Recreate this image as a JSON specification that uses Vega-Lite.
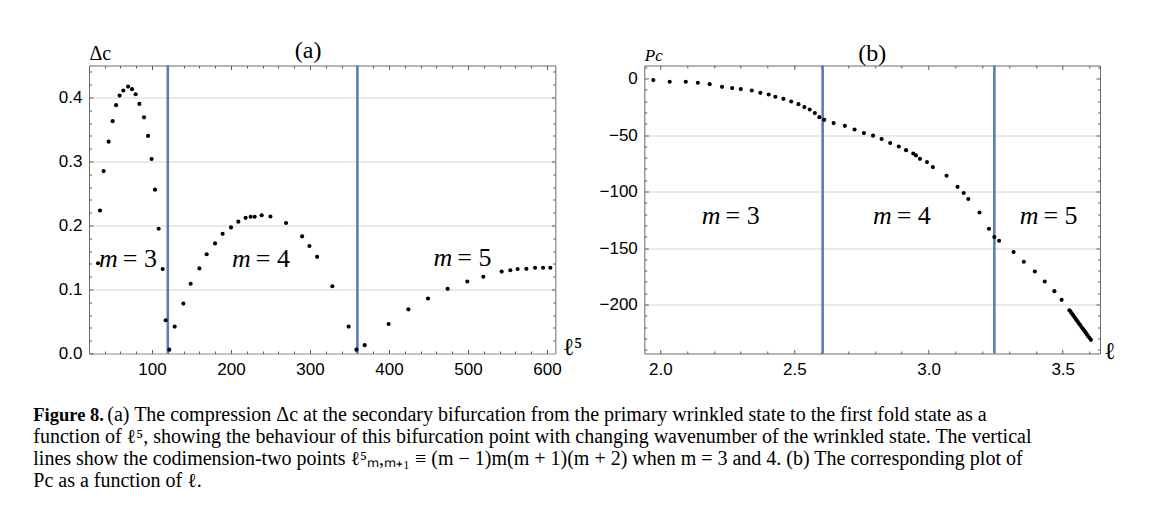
{
  "$schema": "https://vega.github.io/schema/vega-lite/v6.json",
  "autosize": {"type": "pad"},
  "padding": {"left": 33, "top": 37.5, "right": 10, "bottom": 10},
  "background": "white",
  "bounds": "flush",
  "columns": 2,
  "spacing": {"row": 67, "column": 88.3},
  "config": {
    "view": {"stroke": "#6b6b6b", "strokeWidth": 1},
    "axis": {
      "labelFont": "Liberation Sans", "labelFontSize": 17, "labelColor": "black",
      "gridColor": "#d4d4d4", "gridWidth": 1, "domain": false,
      "tickColor": "#5a5a5a", "tickSize": -4,
      "titleFont": "Liberation Serif", "titleFontWeight": "normal", "titleColor": "black"
    },
    "title": {"font": "Liberation Serif", "fontSize": 24, "fontWeight": "normal", "color": "black", "frame": "group"}
  },
  "concat": [
    {
      "width": 466.3, "height": 288,
      "title": {"text": "(a)", "dx": -14, "offset": -38, "baseline": "alphabetic"},
      "resolve": {"axis": {"x": "independent", "y": "independent"}},
      "layer": [
        {
          "data": {"values": [{"l5": 120}, {"l5": 360}]},
          "mark": {"type": "rule", "color": "#5b7db5", "strokeWidth": 2.6},
          "encoding": {"x": {"field": "l5", "type": "quantitative", "scale": {"domain": [20.25, 610.5], "nice": false, "zero": false},
                             "axis": {"orient": "top", "title": null, "labels": false, "grid": false,
                                      "values": [40,60,80,100,120,140,160,180,200,220,240,260,280,300,320,340,360,380,400,420,440,460,480,500,520,540,560,580,600],
                                      "tickSize": {"condition": {"test": "datum.value % 100 === 0", "value": -4}, "value": -2.5}}}}
        },
        {
          "data": {"values": [
            {"l5": 31.7, "d": 0.141}, {"l5": 34.2, "d": 0.2234}, {"l5": 38.8, "d": 0.285}, {"l5": 45.1, "d": 0.331},
            {"l5": 50.2, "d": 0.363}, {"l5": 54.5, "d": 0.388}, {"l5": 59.0, "d": 0.403}, {"l5": 63.7, "d": 0.411},
            {"l5": 69.7, "d": 0.417}, {"l5": 74.7, "d": 0.413}, {"l5": 79.3, "d": 0.405}, {"l5": 84.0, "d": 0.390},
            {"l5": 89.9, "d": 0.369}, {"l5": 95.0, "d": 0.340}, {"l5": 99.5, "d": 0.304}, {"l5": 103.8, "d": 0.256},
            {"l5": 108.4, "d": 0.195}, {"l5": 113.5, "d": 0.132}, {"l5": 117.3, "d": 0.052}, {"l5": 121.9, "d": 0.006},
            {"l5": 128.7, "d": 0.042}, {"l5": 139.7, "d": 0.078}, {"l5": 148.9, "d": 0.109}, {"l5": 160.0, "d": 0.133},
            {"l5": 169.2, "d": 0.155}, {"l5": 179.8, "d": 0.172}, {"l5": 189.4, "d": 0.187}, {"l5": 200.0, "d": 0.197},
            {"l5": 209.3, "d": 0.206}, {"l5": 218.5, "d": 0.212}, {"l5": 224.9, "d": 0.2136}, {"l5": 230.0, "d": 0.2136},
            {"l5": 238.8, "d": 0.216}, {"l5": 249.9, "d": 0.214}, {"l5": 269.7, "d": 0.204}, {"l5": 290.0, "d": 0.183},
            {"l5": 299.3, "d": 0.168}, {"l5": 309.0, "d": 0.151}, {"l5": 328.3, "d": 0.105}, {"l5": 348.9, "d": 0.042},
            {"l5": 358.7, "d": 0.006}, {"l5": 369.2, "d": 0.013}, {"l5": 399.5, "d": 0.046}, {"l5": 424.5, "d": 0.069},
            {"l5": 449.4, "d": 0.086}, {"l5": 474.2, "d": 0.101}, {"l5": 499.1, "d": 0.1125}, {"l5": 519.4, "d": 0.120},
            {"l5": 542.6, "d": 0.128}, {"l5": 553.6, "d": 0.130}, {"l5": 562.8, "d": 0.132}, {"l5": 573.9, "d": 0.1323},
            {"l5": 584.9, "d": 0.134}, {"l5": 595.0, "d": 0.134}, {"l5": 604.2, "d": 0.134}
          ]},
          "mark": {"type": "circle", "size": 17, "color": "black", "opacity": 1},
          "encoding": {
            "x": {"field": "l5", "type": "quantitative", "scale": {"domain": [20.25, 610.5], "nice": false, "zero": false},
                  "axis": {"values": [40,60,80,100,120,140,160,180,200,220,240,260,280,300,320,340,360,380,400,420,440,460,480,500,520,540,560,580,600],
                           "format": "d", "labelExpr": "datum.value % 100 === 0 ? datum.label : ''",
                           "gridOpacity": {"condition": {"test": "datum.value % 100 === 0", "value": 1}, "value": 0},
                           "tickSize": {"condition": {"test": "datum.value % 100 === 0", "value": -4}, "value": -2.5},
                           "title": "ℓ⁵", "titleX": 473, "titleY": 1,
                           "titleAlign": "left", "titleBaseline": "alphabetic", "titleFontSize": 24, "labelPadding": 12}},
            "y": {"field": "d", "type": "quantitative", "scale": {"domain": [0, 0.45], "nice": false, "zero": false},
                  "axis": {"values": [0,0.02,0.04,0.06,0.08,0.1,0.12,0.14,0.16,0.18,0.2,0.22,0.24,0.26,0.28,0.3,0.32,0.34,0.36,0.38,0.4,0.42,0.44],
                           "format": ".1f", "labelExpr": "abs(datum.value*10 - round(datum.value*10)) < 0.000001 ? datum.label : ''",
                           "gridOpacity": {"condition": {"test": "abs(datum.value*10 - round(datum.value*10)) < 0.000001", "value": 1}, "value": 0},
                           "tickSize": {"condition": {"test": "abs(datum.value*10 - round(datum.value*10)) < 0.000001", "value": -4}, "value": -2.5},
                           "title": "Δc", "titleAngle": 0, "titleX": 0, "titleY": -6,
                           "titleAlign": "left", "titleBaseline": "alphabetic", "titleFontSize": 20, "labelPadding": 11}}
          }
        },
        {
          "data": {"values": [{"l5": 59.3, "d": 0.135, "rhs": "= 3"}, {"l5": 227.6, "d": 0.135, "rhs": "= 4"}, {"l5": 482.7, "d": 0.136, "rhs": "= 5"}]},
          "mark": {"type": "text", "text": "m", "font": "Liberation Serif", "fontStyle": "italic", "fontSize": 26, "align": "right", "baseline": "alphabetic", "dx": -2},
          "encoding": {
            "x": {"field": "l5", "type": "quantitative", "axis": null},
            "y": {"field": "d", "type": "quantitative",
                  "axis": {"orient": "right", "title": null, "labels": false, "grid": false,
                           "values": [0.02,0.04,0.06,0.08,0.1,0.12,0.14,0.16,0.18,0.2,0.22,0.24,0.26,0.28,0.3,0.32,0.34,0.36,0.38,0.4,0.42,0.44],
                           "tickSize": {"condition": {"test": "abs(datum.value*10 - round(datum.value*10)) < 0.000001", "value": -4}, "value": -2.5}}}
          }
        },
        {
          "data": {"values": [{"l5": 59.3, "d": 0.135, "rhs": "= 3"}, {"l5": 227.6, "d": 0.135, "rhs": "= 4"}, {"l5": 482.7, "d": 0.136, "rhs": "= 5"}]},
          "mark": {"type": "text", "font": "Liberation Serif", "fontSize": 26, "align": "left", "baseline": "alphabetic", "dx": 3},
          "encoding": {"x": {"field": "l5", "type": "quantitative", "axis": null}, "y": {"field": "d", "type": "quantitative", "axis": null}, "text": {"field": "rhs"}}
        }
      ]
    },
    {
      "width": 455.7, "height": 288,
      "title": {"text": "(b)", "offset": -38, "baseline": "alphabetic"},
      "resolve": {"axis": {"x": "independent", "y": "independent"}},
      "layer": [
        {
          "data": {"values": [{"l": 2.6052}, {"l": 3.2453}]},
          "mark": {"type": "rule", "color": "#5b7db5", "strokeWidth": 2.6},
          "encoding": {"x": {"field": "l", "type": "quantitative", "scale": {"domain": [1.9404, 3.639], "nice": false, "zero": false},
                             "axis": {"orient": "top", "title": null, "labels": false, "grid": false,
                                      "values": [2.0,2.1,2.2,2.3,2.4,2.5,2.6,2.7,2.8,2.9,3.0,3.1,3.2,3.3,3.4,3.5,3.6],
                                      "tickSize": {"condition": {"test": "abs(datum.value*2 - round(datum.value*2)) < 0.000001", "value": -4}, "value": -2.5}}}}
        },
        {
          "data": {"values": [
            {"l": 1.974, "P": -1.3}, {"l": 2.035, "P": -2.8}, {"l": 2.095, "P": -2.8}, {"l": 2.140, "P": -3.7},
            {"l": 2.184, "P": -4.9}, {"l": 2.230, "P": -7.3}, {"l": 2.268, "P": -8.4}, {"l": 2.300, "P": -9.3},
            {"l": 2.341, "P": -10.5}, {"l": 2.373, "P": -12.6}, {"l": 2.404, "P": -14.1}, {"l": 2.429, "P": -16.1},
            {"l": 2.459, "P": -17.9}, {"l": 2.488, "P": -20.3}, {"l": 2.515, "P": -22.6}, {"l": 2.537, "P": -25.2},
            {"l": 2.557, "P": -27.3}, {"l": 2.576, "P": -30.5}, {"l": 2.593, "P": -34.1}, {"l": 2.611, "P": -36.5},
            {"l": 2.646, "P": -39.4}, {"l": 2.688, "P": -41.8}, {"l": 2.724, "P": -45.0}, {"l": 2.759, "P": -48.2},
            {"l": 2.793, "P": -50.5}, {"l": 2.825, "P": -53.4}, {"l": 2.857, "P": -57.0}, {"l": 2.889, "P": -60.1},
            {"l": 2.916, "P": -63.3}, {"l": 2.943, "P": -66.3}, {"l": 2.953, "P": -68.0}, {"l": 2.968, "P": -71.0},
            {"l": 2.994, "P": -73.9}, {"l": 3.016, "P": -78.3}, {"l": 3.067, "P": -86.0}, {"l": 3.108, "P": -95.8},
            {"l": 3.131, "P": -101.3}, {"l": 3.148, "P": -106.6}, {"l": 3.190, "P": -118.5}, {"l": 3.225, "P": -132.9},
            {"l": 3.245, "P": -140.3}, {"l": 3.263, "P": -143.5}, {"l": 3.317, "P": -153.5}, {"l": 3.355, "P": -162.1},
            {"l": 3.396, "P": -170.7}, {"l": 3.433, "P": -179.6}, {"l": 3.469, "P": -188.1}, {"l": 3.496, "P": -195.8},
            {"l": 3.525, "P": -205.0}, {"l": 3.530, "P": -206.5}, {"l": 3.535, "P": -208.2}, {"l": 3.540, "P": -209.8},
            {"l": 3.545, "P": -211.5}, {"l": 3.550, "P": -213.2}, {"l": 3.555, "P": -214.8}, {"l": 3.560, "P": -216.5},
            {"l": 3.565, "P": -218.1}, {"l": 3.570, "P": -219.8}, {"l": 3.575, "P": -221.4}, {"l": 3.580, "P": -223.0},
            {"l": 3.585, "P": -224.6}, {"l": 3.590, "P": -226.3}, {"l": 3.595, "P": -228.0}, {"l": 3.600, "P": -229.6},
            {"l": 3.605, "P": -231.2}
          ]},
          "mark": {"type": "circle", "size": 17, "color": "black", "opacity": 1},
          "encoding": {
            "x": {"field": "l", "type": "quantitative", "scale": {"domain": [1.9404, 3.639], "nice": false, "zero": false},
                  "axis": {"values": [2.0,2.1,2.2,2.3,2.4,2.5,2.6,2.7,2.8,2.9,3.0,3.1,3.2,3.3,3.4,3.5,3.6],
                           "format": ".1f", "labelExpr": "abs(datum.value*2 - round(datum.value*2)) < 0.000001 ? datum.label : ''",
                           "gridOpacity": {"condition": {"test": "abs(datum.value*2 - round(datum.value*2)) < 0.000001", "value": 1}, "value": 0},
                           "tickSize": {"condition": {"test": "abs(datum.value*2 - round(datum.value*2)) < 0.000001", "value": -4}, "value": -2.5},
                           "title": "ℓ", "titleX": 459, "titleY": 5,
                           "titleAlign": "left", "titleBaseline": "alphabetic", "titleFontSize": 24, "labelPadding": 12}},
            "y": {"field": "P", "type": "quantitative", "scale": {"domain": [-243.3, 11.6], "nice": false, "zero": false},
                  "axis": {"values": [10,0,-10,-20,-30,-40,-50,-60,-70,-80,-90,-100,-110,-120,-130,-140,-150,-160,-170,-180,-190,-200,-210,-220,-230,-240],
                           "format": "d", "labelExpr": "datum.value % 50 === 0 ? datum.label : ''",
                           "gridOpacity": {"condition": {"test": "datum.value % 50 === 0 && datum.value !== 0", "value": 1}, "value": 0},
                           "tickSize": {"condition": {"test": "datum.value % 50 === 0", "value": -4}, "value": -2.5},
                           "title": "Pc", "titleAngle": 0, "titleX": 0, "titleY": -5,
                           "titleAlign": "left", "titleBaseline": "alphabetic", "titleFontSize": 17, "titleFontStyle": "italic", "labelPadding": 11}}
          }
        },
        {
          "data": {"values": [{"l": 2.232, "P": -129, "rhs": "= 3"}, {"l": 2.870, "P": -129, "rhs": "= 4"}, {"l": 3.417, "P": -129, "rhs": "= 5"}]},
          "mark": {"type": "text", "text": "m", "font": "Liberation Serif", "fontStyle": "italic", "fontSize": 26, "align": "right", "baseline": "alphabetic", "dx": -2},
          "encoding": {
            "x": {"field": "l", "type": "quantitative", "axis": null},
            "y": {"field": "P", "type": "quantitative",
                  "axis": {"orient": "right", "title": null, "labels": false, "grid": false,
                           "values": [10,0,-10,-20,-30,-40,-50,-60,-70,-80,-90,-100,-110,-120,-130,-140,-150,-160,-170,-180,-190,-200,-210,-220,-230,-240],
                           "tickSize": {"condition": {"test": "datum.value % 50 === 0", "value": -4}, "value": -2.5}}}
          }
        },
        {
          "data": {"values": [{"l": 2.232, "P": -129, "rhs": "= 3"}, {"l": 2.870, "P": -129, "rhs": "= 4"}, {"l": 3.417, "P": -129, "rhs": "= 5"}]},
          "mark": {"type": "text", "font": "Liberation Serif", "fontSize": 26, "align": "left", "baseline": "alphabetic", "dx": 3},
          "encoding": {"x": {"field": "l", "type": "quantitative", "axis": null}, "y": {"field": "P", "type": "quantitative", "axis": null}, "text": {"field": "rhs"}}
        }
      ]
    },
    {
      "width": 466.3, "height": 66,
      "view": {"stroke": null},
      "layer": [
        {
          "data": {"values": [{"line": 1, "t": "Figure 8."}]},
          "mark": {"type": "text", "font": "Liberation Serif", "fontSize": 18.5, "fontWeight": "bold", "align": "left", "baseline": "alphabetic"},
          "encoding": {
            "x": {"value": -55.7},
            "y": {"field": "line", "type": "quantitative", "scale": {"domain": [1, 4], "reverse": true, "nice": false, "zero": false}, "axis": null},
            "text": {"field": "t"}
          }
        },
        {
          "data": {"values": [{"line": 1, "t": "(a) The compression Δc at the secondary bifurcation from the primary wrinkled state to the first fold state as a"}]},
          "mark": {"type": "text", "font": "Liberation Serif", "fontSize": 20, "align": "left", "baseline": "alphabetic"},
          "encoding": {
            "x": {"value": 18.3},
            "y": {"field": "line", "type": "quantitative", "axis": null},
            "text": {"field": "t"}
          }
        },
        {
          "data": {"values": [
            {"line": 2, "t": "function of ℓ⁵, showing the behaviour of this bifurcation point with changing wavenumber of the wrinkled state. The vertical"},
            {"line": 3, "t": "lines show the codimension-two points ℓ⁵ₘ,ₘ₊₁ ≡ (m − 1)m(m + 1)(m + 2) when m = 3 and 4. (b) The corresponding plot of"},
            {"line": 4, "t": "Pc as a function of ℓ."}
          ]},
          "mark": {"type": "text", "font": "Liberation Serif", "fontSize": 20, "align": "left", "baseline": "alphabetic"},
          "encoding": {
            "x": {"value": -55.7},
            "y": {"field": "line", "type": "quantitative", "axis": null},
            "text": {"field": "t"}
          }
        }
      ]
    }
  ]
}
